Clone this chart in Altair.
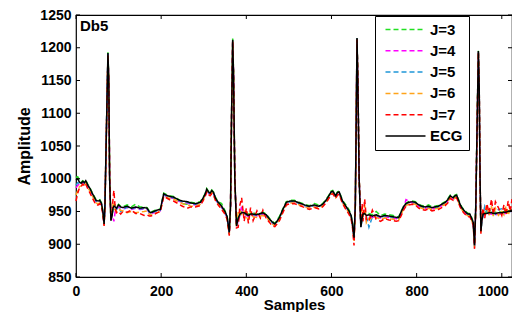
import altair as alt
import pandas as pd

SAMPLES = [
    0, 4, 8, 12, 16, 20, 23, 28, 33, 38,
    43, 47, 52, 56, 60, 63, 66, 68, 71, 75,
    77, 79, 82, 85, 87, 89, 92, 95, 100, 105,
    110, 120, 130, 140, 150, 160, 167, 172, 176, 182,
    190, 198, 202, 206, 212, 220, 229, 240, 250, 261,
    270, 280, 292, 298, 303, 307, 311, 315, 319, 323,
    328, 334, 342, 350, 355, 360, 363, 365, 368, 370,
    373, 377, 381, 385, 389, 395, 400, 405, 410, 416,
    425, 433, 439, 447, 455, 461, 467, 472, 478, 485,
    494, 503, 513, 525, 537, 548, 560, 570, 579, 587,
    594, 599, 603, 607, 610, 614, 618, 622, 626, 634,
    641, 646, 649, 653, 656, 658, 660, 662, 665, 669,
    672, 674, 678, 682, 688, 696, 705, 715, 725, 735,
    745, 752, 758, 764, 770, 775, 781, 790, 797, 805,
    812, 820, 828, 836, 843, 851, 859, 867, 873, 879,
    883, 886, 890, 894, 898, 902, 906, 912, 917, 921,
    925, 929, 933, 936, 939, 942, 945, 947, 949, 951,
    953, 956, 960, 965, 970, 976, 980, 985, 992, 1000,
    1005, 1010, 1015, 1020, 1024,
]

ECG = [
    998, 1000, 995, 993, 996, 994, 997, 990, 985, 978,
    972, 967, 966, 967, 962, 950, 931, 960, 1060, 1192,
    1150, 1000, 936, 945, 955, 958, 957, 955, 960, 957,
    956, 958, 955, 957, 955, 956, 955, 950, 948, 950,
    952, 953, 965, 977, 975, 973, 972, 968, 966, 965,
    963, 962, 964, 970, 976, 984, 980, 978, 982, 979,
    970, 964, 958, 950, 942, 918, 960, 1080, 1212, 1160,
    1000, 928, 940, 946, 948, 948, 946, 944, 946, 946,
    945, 947, 948, 945, 938, 934, 931, 935, 941, 952,
    964, 966, 966, 963, 960, 958, 960, 958, 961, 967,
    974, 980, 981, 977, 974, 979, 980, 973, 966, 958,
    951, 944, 933, 910, 960, 1080, 1215, 1150, 1000, 926,
    940, 946, 947, 944, 945, 943, 945, 942, 944, 943,
    942, 941, 941, 950, 958, 962, 964, 965, 964, 960,
    958, 957, 958, 956, 957, 958, 961, 964, 968, 974,
    972, 971, 974, 975, 968, 961, 956, 951, 948, 946,
    946, 940, 933, 898, 960, 1080, 1195, 1140, 1000, 920,
    935, 946, 947, 947, 948, 948, 947, 947, 948, 948,
    949, 949, 950, 951, 952,
]

J3 = [
    1002, 1003, 999, 995, 997, 995, 998, 991, 986, 979,
    973, 968, 967, 968, 963, 951, 932, 961, 1061, 1193,
    1151, 1001, 937, 946, 957, 959, 960, 957, 961, 958,
    957, 960, 957, 961, 957, 957, 956, 951, 949, 951,
    953, 954, 966, 978, 976, 974, 973, 969, 962, 961,
    964, 963, 965, 971, 977, 985, 981, 979, 983, 980,
    971, 965, 962, 951, 943, 919, 961, 1081, 1214, 1161,
    1001, 929, 941, 948, 950, 949, 948, 946, 947, 948,
    946, 948, 949, 946, 939, 935, 932, 936, 943, 953,
    965, 967, 967, 964, 961, 959, 962, 960, 962, 968,
    975, 981, 982, 978, 975, 980, 981, 974, 967, 960,
    953, 945, 934, 911, 961, 1081, 1216, 1151, 1001, 927,
    941, 948, 949, 946, 947, 945, 950, 944, 946, 945,
    944, 942, 942, 951, 959, 963, 965, 966, 965, 961,
    959, 958, 960, 957, 958, 959, 962, 965, 969, 975,
    973, 972, 975, 976, 969, 962, 957, 952, 949, 947,
    947, 941, 934, 899, 961, 1081, 1196, 1141, 1001, 921,
    936, 947, 950, 948, 949, 951, 948, 949, 950, 949,
    950, 951, 951, 952, 953,
]

J4 = [
    986, 990, 992, 991, 994, 992, 995, 988, 983, 976,
    970, 965, 964, 965, 960, 949, 930, 959, 1059, 1190,
    1149, 1001, 937, 944, 940, 935, 950, 953, 957, 955,
    954, 956, 953, 955, 953, 954, 953, 948, 946, 948,
    950, 951, 963, 975, 973, 971, 970, 966, 964, 963,
    961, 960, 962, 968, 974, 982, 978, 976, 980, 977,
    968, 962, 956, 948, 940, 916, 959, 1079, 1211, 1159,
    1001, 927, 935, 944, 958, 944, 944, 942, 944, 944,
    943, 945, 946, 943, 936, 932, 929, 933, 939, 950,
    962, 964, 964, 961, 958, 956, 958, 956, 959, 965,
    972, 978, 979, 975, 972, 977, 978, 971, 964, 956,
    949, 942, 931, 908, 959, 1079, 1213, 1149, 1001, 927,
    942, 944, 950, 936, 942, 941, 943, 940, 942, 941,
    940, 939, 939, 948, 956, 968, 966, 963, 962, 958,
    956, 955, 956, 954, 955, 956, 959, 962, 966, 972,
    970, 969, 972, 973, 966, 959, 954, 949, 946, 944,
    944, 938, 931, 896, 959, 1079, 1193, 1139, 1001, 921,
    937, 944, 945, 945, 946, 946, 945, 945, 946, 946,
    947, 947, 948, 949, 950,
]

J5 = [
    990, 994, 993, 992, 995, 993, 996, 989, 984, 977,
    971, 966, 965, 966, 961, 949, 930, 959, 1059, 1191,
    1149, 1000, 937, 946, 954, 956, 955, 953, 958, 950,
    952, 957, 954, 956, 954, 955, 954, 949, 947, 949,
    951, 952, 964, 976, 974, 972, 971, 967, 965, 964,
    962, 961, 963, 969, 975, 983, 979, 977, 981, 978,
    969, 963, 957, 949, 941, 917, 959, 1079, 1211, 1159,
    1000, 927, 939, 945, 947, 947, 945, 943, 945, 945,
    944, 946, 947, 944, 937, 933, 930, 934, 940, 951,
    963, 965, 965, 962, 959, 957, 959, 957, 960, 966,
    973, 979, 980, 976, 973, 978, 979, 972, 965, 957,
    950, 943, 932, 909, 959, 1079, 1214, 1149, 1000, 925,
    939, 945, 946, 943, 926, 942, 944, 941, 943, 942,
    941, 940, 940, 949, 957, 961, 963, 964, 963, 959,
    957, 956, 957, 955, 956, 957, 960, 963, 967, 973,
    971, 970, 973, 974, 967, 960, 955, 950, 947, 945,
    945, 939, 932, 897, 959, 1079, 1194, 1139, 1000, 919,
    934, 945, 958, 950, 956, 947, 950, 946, 953, 954,
    948, 952, 948, 950, 951,
]

J6 = [
    975, 982, 988, 989, 992, 990, 993, 986, 981, 974,
    968, 963, 962, 963, 959, 948, 929, 958, 1058, 1189,
    1148, 1001, 937, 947, 962, 958, 952, 950, 954, 952,
    951, 948, 950, 948, 949, 950, 951, 946, 944, 946,
    948, 950, 962, 974, 972, 970, 969, 965, 962, 960,
    958, 958, 961, 967, 973, 981, 977, 975, 979, 976,
    967, 961, 955, 947, 939, 915, 958, 1078, 1210, 1158,
    1001, 926, 950, 952, 944, 950, 941, 938, 950, 942,
    941, 943, 944, 941, 935, 931, 928, 932, 938, 949,
    961, 963, 963, 960, 957, 955, 957, 955, 958, 964,
    971, 977, 978, 974, 971, 976, 977, 970, 963, 955,
    948, 941, 930, 905, 958, 1078, 1212, 1148, 1001, 929,
    955, 940, 960, 933, 940, 939, 941, 938, 940, 939,
    938, 937, 937, 946, 955, 959, 961, 962, 961, 957,
    955, 954, 955, 953, 954, 955, 958, 961, 965, 971,
    969, 968, 971, 972, 965, 958, 953, 948, 945, 943,
    943, 937, 930, 895, 958, 1078, 1193, 1138, 1001, 918,
    940, 950, 946, 960, 944, 958, 943, 955, 944, 950,
    945, 958, 944, 955, 950,
]

J7 = [
    966, 978, 986, 988, 992, 989, 992, 984, 978, 971,
    965, 960, 960, 962, 957, 946, 928, 958, 1058, 1188,
    1147, 1002, 938, 950, 970, 982, 955, 948, 950, 946,
    950, 949, 952, 947, 947, 944, 945, 943, 943, 945,
    948, 950, 961, 973, 971, 968, 966, 962, 958, 955,
    957, 957, 959, 966, 972, 980, 976, 974, 977, 975,
    966, 960, 953, 946, 938, 913, 958, 1078, 1210, 1158,
    1002, 925, 926, 960, 971, 935, 955, 932, 956, 936,
    951, 940, 952, 939, 933, 928, 927, 931, 936, 947,
    960, 962, 962, 959, 956, 953, 956, 954, 957, 963,
    970, 976, 977, 973, 970, 975, 976, 969, 962, 953,
    946, 939, 928, 898, 958, 1078, 1213, 1148, 1002, 930,
    962, 935, 969, 938, 935, 952, 938, 935, 939, 937,
    936, 935, 936, 944, 953, 958, 960, 961, 960, 955,
    953, 952, 954, 951, 952, 953, 956, 959, 963, 970,
    968, 967, 970, 971, 964, 957, 952, 947, 944, 942,
    942, 936, 929, 893, 958, 1078, 1193, 1138, 1002, 916,
    943, 955, 940, 962, 948, 969, 945, 965, 956, 944,
    960, 945, 966, 950, 969,
]

SERIES = ["J=3", "J=4", "J=5", "J=6", "J=7", "ECG"]
SERIES_VALUES = [J3, J4, J5, J6, J7, ECG]
COLORS = ["#22e022", "#ff00ff", "#1f96d8", "#ffa31a", "#ff0000", "#000000"]
DASHES = [[5, 3], [5, 3], [5, 3], [5, 3], [5, 3], [1, 0]]
WIDTHS = [1.5, 1.5, 1.5, 1.5, 1.5, 2.4]

X_TICKS = [0, 200, 400, 600, 800, 1000]
Y_TICKS = [850, 900, 950, 1000, 1050, 1100, 1150, 1200, 1250]

W, H = 436, 262
FONT = "Liberation Sans"

frames = []
for name, vals in zip(SERIES, SERIES_VALUES):
    frames.append(pd.DataFrame({"s": SAMPLES, "v": vals, "series": name}))
data = pd.concat(frames, ignore_index=True)

xscale = alt.Scale(domain=[0, 1024], nice=False, zero=False)
yscale = alt.Scale(domain=[850, 1250], nice=False, zero=False)

X = alt.X("s:Q", scale=xscale, axis=alt.Axis(
    title="Samples", values=X_TICKS, format="d", grid=False, ticks=False, domain=False,
    labelFont=FONT, labelFontSize=14, labelFontWeight="bold", labelColor="black",
    labelPadding=7, titleFont=FONT, titleFontSize=15, titleFontWeight="bold",
    titleColor="black", titlePadding=-1, labelFlush=False,
    labelOffset={"condition": {"test": "datum.value >= 1000", "value": -9}, "value": 0}))
Y = alt.Y("v:Q", scale=yscale, axis=alt.Axis(
    title="Amplitude", values=Y_TICKS, format="d", grid=False, ticks=False, domain=False,
    labelFont=FONT, labelFontSize=14, labelFontWeight="bold", labelColor="black",
    labelPadding=5, titleFont=FONT, titleFontSize=16, titleFontWeight="bold",
    titleColor="black", titlePadding=7, labelFlush=False))

leg = alt.Legend(
    title=None, orient="none", legendX=299, legendY=1,
    symbolType="M-5,0H5", symbolSize=64, symbolOffset=17, labelOffset=17,
    padding=6, rowPadding=5.3, strokeColor="black", fillColor="white",
    labelFont=FONT, labelFontSize=15, labelFontWeight="bold", labelColor="black")

base = alt.Chart(data).mark_line(strokeCap="butt").encode(
    x=X, y=Y,
    color=alt.Color("series:N", scale=alt.Scale(domain=SERIES, range=COLORS), legend=leg),
    strokeDash=alt.StrokeDash("series:N", scale=alt.Scale(domain=SERIES, range=DASHES), legend=leg),
    strokeWidth=alt.StrokeWidth("series:N", scale=alt.Scale(domain=SERIES, range=WIDTHS), legend=leg),
)
line_layers = [base.transform_filter(alt.datum.series == name) for name in SERIES]

one = pd.DataFrame({"a": [0]})
xt = pd.DataFrame({"s": X_TICKS})
yt = pd.DataFrame({"v": Y_TICKS})
tick_bottom = alt.Chart(xt).mark_rule(color="black", strokeWidth=1).encode(
    x=X, y=alt.value(H), y2=alt.value(H - 4))
tick_top = alt.Chart(xt).mark_rule(color="black", strokeWidth=1).encode(
    x=X, y=alt.value(0), y2=alt.value(4))
tick_left = alt.Chart(yt).mark_rule(color="black", strokeWidth=1).encode(
    y=Y, x=alt.value(0), x2=alt.value(4))
tick_right = alt.Chart(yt).mark_rule(color="black", strokeWidth=1).encode(
    y=Y, x=alt.value(W - 4), x2=alt.value(W))

label = alt.Chart(one).mark_text(
    text="Db5", font=FONT, fontSize=15, fontWeight="bold", color="black",
    align="left", baseline="alphabetic").encode(x=alt.value(4), y=alt.value(16))

chart = alt.layer(
    *line_layers, tick_bottom, tick_top, tick_left, tick_right, label
).properties(
    width=W, height=H,
    autosize=alt.AutoSizeParams(type="none"),
    padding={"left": 68, "top": 7, "right": 0, "bottom": 35},
).configure_view(stroke="black", strokeWidth=1.2)

chart.save("out.html", embed_options={"renderer": "svg", "actions": False})
